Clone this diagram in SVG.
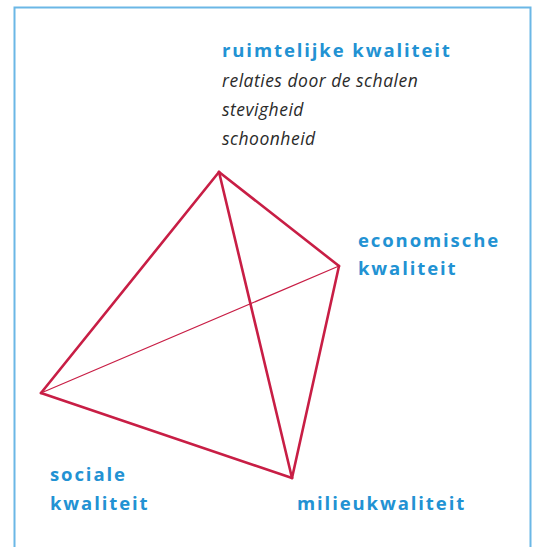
<svg xmlns="http://www.w3.org/2000/svg" width="537" height="547" viewBox="0 0 537 547">
<style>
.lbl{font-family:"Open Sans","Liberation Sans",sans-serif;font-weight:bold;font-size:18.5px;fill:#2292d3;letter-spacing:1.9px}
.sub{font-family:"Open Sans","Liberation Sans",sans-serif;font-style:italic;font-size:17.5px;fill:#2a2a2a;letter-spacing:0.5px}
.e{stroke:#c81e45;fill:none;stroke-linecap:round;stroke-linejoin:round}
.thick{stroke-width:2.6}
.thin{stroke-width:1.2}
</style>
<rect x="0" y="0" width="537" height="547" fill="#ffffff"/>
<path d="M14.5 560 V7.5 H530.5 V560" fill="none" stroke="#6bb7e6" stroke-width="2"/>
<g id="connectors">
<line class="e thick" x1="219" y1="172" x2="41" y2="393"/>
<line class="e thick" x1="219" y1="172" x2="292" y2="478"/>
<line class="e thick" x1="219" y1="172" x2="339" y2="266"/>
<line class="e thick" x1="339" y1="266" x2="292" y2="478"/>
<line class="e thick" x1="41" y1="393" x2="292" y2="478"/>
<line class="e thin" x1="41" y1="393" x2="339" y2="266"/>
</g>
<g id="ruimtelijke">
<text class="lbl" x="222" y="57">ruimtelijke kwaliteit</text>
<text class="sub" x="222" y="87">relaties door de schalen</text>
<text class="sub" x="222" y="116">stevigheid</text>
<text class="sub" x="222" y="145">schoonheid</text>
</g>
<g id="economische">
<text class="lbl" x="358" y="247">economische</text>
<text class="lbl" x="358" y="275">kwaliteit</text>
</g>
<g id="sociale">
<text class="lbl" x="50" y="481">sociale</text>
<text class="lbl" x="50" y="510">kwaliteit</text>
</g>
<g id="milieu">
<text class="lbl" x="297" y="510">milieukwaliteit</text>
</g>
</svg>
